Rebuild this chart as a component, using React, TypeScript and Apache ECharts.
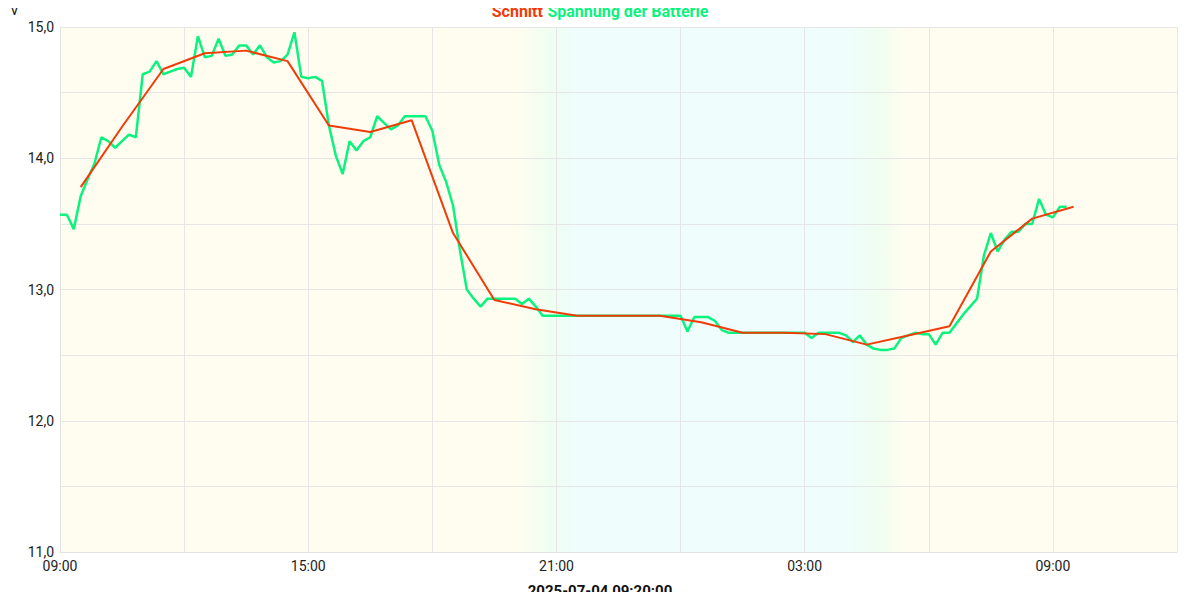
import React, { useEffect, useRef } from "react";
import * as echarts from "echarts";

// Time axis: hours since 2025-07-03 09:00
const START_HOUR = 9;
const STEP_HOURS = 1 / 6; // 10-minute samples

// "Spannung der Batterie" — 10-minute samples from 09:00 to 09:20 next day
const voltage = [
  13.57, 13.57, 13.46, 13.71, 13.84, 13.96, 14.16, 14.13, 14.08, 14.13,
  14.18, 14.16, 14.64, 14.66, 14.74, 14.64, 14.66, 14.68, 14.69, 14.62,
  14.93, 14.77, 14.78, 14.91, 14.78, 14.79, 14.86, 14.86, 14.79, 14.86,
  14.77, 14.73, 14.74, 14.79, 14.96, 14.62, 14.61, 14.62, 14.59, 14.25,
  14.02, 13.88, 14.13, 14.06, 14.13, 14.16, 14.32, 14.27, 14.22, 14.25,
  14.32, 14.32, 14.32, 14.32, 14.21, 13.95, 13.82, 13.64, 13.30, 13.00,
  12.93, 12.87, 12.93, 12.93, 12.93, 12.93, 12.93, 12.89, 12.93, 12.87,
  12.80, 12.80, 12.80, 12.80, 12.80, 12.80, 12.80, 12.80, 12.80, 12.80,
  12.80, 12.80, 12.80, 12.80, 12.80, 12.80, 12.80, 12.80, 12.80, 12.80,
  12.80, 12.68, 12.79, 12.79, 12.79, 12.76, 12.69, 12.67, 12.67, 12.67,
  12.67, 12.67, 12.67, 12.67, 12.67, 12.67, 12.67, 12.67, 12.67, 12.63,
  12.67, 12.67, 12.67, 12.67, 12.65, 12.60, 12.65, 12.58, 12.55, 12.54,
  12.54, 12.55, 12.63, 12.65, 12.67, 12.66, 12.66, 12.58, 12.67, 12.67,
  12.74, 12.81, 12.87, 12.93, 13.26, 13.43, 13.29, 13.38, 13.44, 13.44,
  13.50, 13.50, 13.69, 13.57, 13.55, 13.63, 13.63,
];

// "Schnitt" — hourly averages plotted at half past each hour (hours since 09:00)
const averageTimes = [
  0.5, 1.5, 2.5, 3.5, 4.5, 5.5, 6.5, 7.5, 8.5, 9.5, 10.5, 11.5, 12.5,
  13.5, 14.5, 15.5, 16.5, 17.5, 18.5, 19.5, 20.5, 21.5, 22.5, 23.5, 24.5,
];
const average = [
  13.78, 14.24, 14.68, 14.80, 14.82, 14.74, 14.25, 14.20, 14.29, 13.43,
  12.92, 12.85, 12.80, 12.80, 12.80, 12.75, 12.67, 12.67, 12.66, 12.58,
  12.65, 12.72, 13.29, 13.54, 13.63,
];

// Day / night background ranges (hours since 09:00)
const dayEveningEnd = 11; // 20:00
const nightStart = 12.5; // 21:30
const nightEnd = 19; // 04:00
const morningStart = 20.5; // 05:30
const axisEnd = 27; // 12:00

const titleParts = ["Schnitt", "Spannung der Batterie"];
const axisTitle = "2025-07-04 09:20:00";
const unitLabel = "V";

const RED = "#f03c08";
const GREEN = "#0cf27e";
const CREAM = "#fffdf0";
const CYAN = "#effdfd";
const MINT = "#effef0";
const FONT = "Roboto";

export default function App() {
  const ref = useRef<HTMLDivElement>(null);

  useEffect(() => {
    if (!ref.current) return;
    const chart = echarts.init(ref.current, null, { renderer: "svg" });

    const evening = new echarts.graphic.LinearGradient(0, 0, 1, 0, [
      { offset: 0, color: CREAM },
      { offset: 0.55, color: MINT },
      { offset: 1, color: CYAN },
    ]);
    const morning = new echarts.graphic.LinearGradient(0, 0, 1, 0, [
      { offset: 0, color: CYAN },
      { offset: 0.5, color: MINT },
      { offset: 1, color: CREAM },
    ]);

    const fmtHour = (h: number) => {
      if (Math.round(h) % 6 !== 0) return "";
      const hh = (START_HOUR + Math.round(h)) % 24;
      return (hh < 10 ? "0" : "") + hh + ":00";
    };

    chart.setOption({
      animation: false,
      backgroundColor: "#ffffff",
      textStyle: { fontFamily: FONT },
      title: [
        {
          text: `{a|${titleParts[0]}} {b|${titleParts[1]}}`,
          left: "center",
          top: 1,
          padding: 0,
          textStyle: {
            rich: {
              a: { color: RED, fontWeight: "bold", fontSize: 16, fontFamily: FONT, lineHeight: 20 },
              b: { color: GREEN, fontWeight: "bold", fontSize: 16, fontFamily: FONT, lineHeight: 20 },
            },
          },
        },
        {
          text: unitLabel,
          left: 10,
          top: 3,
          padding: 0,
          textStyle: { fontWeight: "normal", fontSize: 14, color: "#222", fontFamily: FONT, lineHeight: 14 },
        },
      ],
      graphic: [
        {
          type: "text",
          x: 600,
          y: 591,
          style: {
            text: axisTitle,
            fontSize: 15,
            fontWeight: "bold",
            fontFamily: FONT,
            fill: "#111",
            align: "center",
            verticalAlign: "middle",
          },
        },
      ],
      grid: { left: 60, right: 23, top: 27, bottom: 48, outerBoundsMode: "none", containLabel: false },
      xAxis: {
        type: "value",
        min: 0,
        max: axisEnd,
        interval: 3,
        z: 1,
        axisLine: { show: true, lineStyle: { color: "#e2e2e2" } },
        axisTick: { show: false },
        splitLine: { show: true, lineStyle: { color: "#e6e6e6", width: 1 } },
        axisLabel: {
          formatter: (v: number) => fmtHour(v),
          color: "#222",
          fontSize: 14,
          margin: 7,
          fontFamily: FONT,
          showMaxLabel: true,
          showMinLabel: true,
        },
      },
      yAxis: {
        type: "value",
        min: 11,
        max: 15,
        interval: 0.5,
        z: 1,
        axisLine: { show: true, lineStyle: { color: "#e2e2e2" } },
        axisTick: { show: false },
        splitLine: { show: true, lineStyle: { color: "#e6e6e6", width: 1 } },
        axisLabel: {
          formatter: (v: number) =>
            Math.abs(v - Math.round(v)) < 1e-6 ? v.toFixed(1).replace(".", ",") : "",
          color: "#222",
          fontSize: 14,
          margin: 6,
          fontFamily: FONT,
        },
      },
      series: [
        {
          type: "line",
          name: "bg",
          data: [],
          z: -2,
          silent: true,
          markArea: {
            silent: true,
            z: -2,
            data: [
              [{ xAxis: 0, itemStyle: { color: CREAM } }, { xAxis: dayEveningEnd }],
              [{ xAxis: dayEveningEnd, itemStyle: { color: evening } }, { xAxis: nightStart }],
              [{ xAxis: nightStart, itemStyle: { color: CYAN } }, { xAxis: nightEnd }],
              [{ xAxis: nightEnd, itemStyle: { color: morning } }, { xAxis: morningStart }],
              [{ xAxis: morningStart, itemStyle: { color: CREAM } }, { xAxis: axisEnd }],
            ],
          },
        },
        {
          type: "line",
          name: titleParts[1],
          data: voltage.map((v, i) => [i * STEP_HOURS, v]),
          symbol: "none",
          showSymbol: false,
          lineStyle: { color: GREEN, width: 2.5 },
          z: 2,
        },
        {
          type: "line",
          name: titleParts[0],
          data: average.map((v, i) => [averageTimes[i], v]),
          symbol: "none",
          showSymbol: false,
          lineStyle: { color: RED, width: 2 },
          z: 3,
        },
      ],
    });

    return () => chart.dispose();
  }, []);

  return <div ref={ref} style={{ width: 1200, height: 600, margin: -8 }} />;
}
